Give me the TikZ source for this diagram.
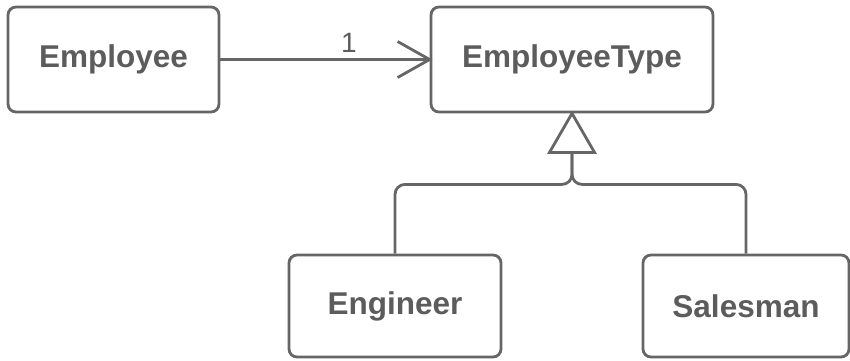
\documentclass[tikz,border=0pt]{standalone}
\usepackage{fontspec}
\setmainfont{Liberation Sans}
\definecolor{linegray}{HTML}{666666}
\definecolor{textgray}{HTML}{5C5C5C}
\begin{document}
\begin{tikzpicture}[x=1pt,y=-1pt,
  classbox/.style={draw=linegray, line width=2.8pt, rounded corners=8pt, fill=white,
    text=textgray, font=\fontsize{31.5}{36}\selectfont\bfseries, inner sep=0pt},
  conn/.style={draw=linegray, line width=2.8pt},
  lbl/.style={text=textgray, font=\fontsize{28}{32}\selectfont, inner sep=0pt}]
\useasboundingbox (0,0) rectangle (850,360);
\node[classbox, minimum width=211pt, minimum height=105pt] (emp) at (113.5,59.5) {Employee};
\node[classbox, minimum width=282pt, minimum height=105pt] (et) at (572,59.5) {EmployeeType};
\node[classbox, minimum width=212pt, minimum height=102pt] (eng) at (395,306) {Engineer};
\node[classbox, minimum width=206pt, minimum height=102pt] (sal) at (746,306) {Salesman};
% association
\draw[conn] (emp.east) -- (et.west);
\draw[conn, line join=miter] ([shift={(-32,-18)}]et.west) -- (et.west) -- ([shift={(-32,18)}]et.west);
\node[lbl] (one) at (349,43) {1};
% generalization
\coordinate (tri) at ([shift={(0,39)}]et.south);
\coordinate (junc) at ([shift={(0,71)}]et.south);
\draw[conn, line join=miter] (et.south) -- ++(-22.5,39) -- ++(45,0) -- cycle;
\draw[conn, rounded corners=10pt] (eng.north) |- (junc) -- (tri);
\draw[conn, rounded corners=10pt] (sal.north) |- (junc) -- (tri);
\end{tikzpicture}
\end{document}
